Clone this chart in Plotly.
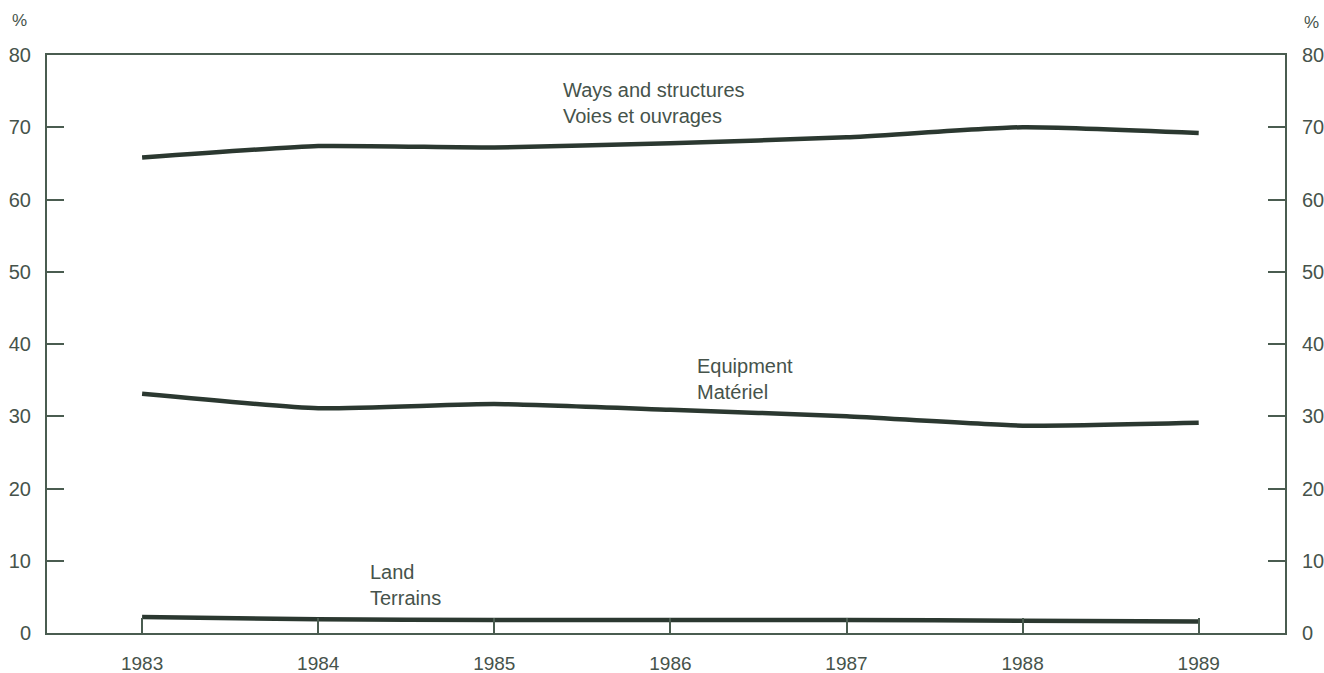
import plotly.graph_objects as go

years = [1983, 1984, 1985, 1986, 1987, 1988, 1989]
ways = [65.8, 67.4, 67.2, 67.8, 68.6, 70.0, 69.2]
equipment = [33.1, 31.1, 31.7, 30.9, 30.0, 28.7, 29.1]
land = [2.2, 1.9, 1.8, 1.8, 1.8, 1.7, 1.6]
y_ticks = [0, 10, 20, 30, 40, 50, 60, 70, 80]

line_col = "#2b3830"
axis_col = "#4a5c50"
text_col = "#46534b"
font_family = "Liberation Sans, Arial, sans-serif"

fig = go.Figure()
for series in (ways, equipment, land):
    fig.add_trace(go.Scatter(
        x=years, y=series, mode="lines",
        line=dict(color=line_col, width=4.5, shape="spline", smoothing=0.5),
        showlegend=False, hoverinfo="skip"))
# invisible trace to activate the right-hand axis
fig.add_trace(go.Scatter(x=years, y=ways, mode="lines", yaxis="y2",
                         line=dict(color="rgba(0,0,0,0)", width=0),
                         showlegend=False, hoverinfo="skip"))

fig.update_layout(
    width=1324, height=673,
    margin=dict(l=47, r=39, t=55, b=40, autoexpand=False),
    paper_bgcolor="white", plot_bgcolor="white",
    font=dict(family=font_family, color=text_col, size=20),
    xaxis=dict(
        range=[1982.46, 1989.49], tickmode="array", tickvals=years,
        ticktext=[str(y) for y in years], automargin=False,
        showline=True, linecolor=axis_col, linewidth=2, mirror=True,
        ticks="inside", ticklen=15, tickwidth=1.5, tickcolor=axis_col,
        showgrid=False, zeroline=False, ticklabelstandoff=12,
        tickfont=dict(size=19, color=text_col),
    ),
    yaxis=dict(
        range=[0, 80], tickmode="array", tickvals=y_ticks, automargin=False,
        showline=True, linecolor=axis_col, linewidth=2,
        ticks="inside", ticklen=17, tickwidth=2, tickcolor=axis_col,
        showgrid=False, zeroline=False, ticklabelstandoff=10,
        tickfont=dict(size=20, color=text_col),
    ),
    yaxis2=dict(
        range=[0, 80], tickmode="array", tickvals=y_ticks, automargin=False,
        overlaying="y", side="right",
        showline=True, linecolor=axis_col, linewidth=2,
        ticks="inside", ticklen=17, tickwidth=2, tickcolor=axis_col,
        showgrid=False, zeroline=False, ticklabelstandoff=11,
        tickfont=dict(size=20, color=text_col),
    ),
)

ann_font = dict(family=font_family, size=20, color=text_col)
labels = [
    (1985.38, 73.3, "Ways and structures<br>Voies et ouvrages"),
    (1986.14, 35.1, "Equipment<br>Matériel"),
    (1984.28, 6.7, "Land<br>Terrains"),
]
for x, y, t in labels:
    fig.add_annotation(x=x, y=y, xref="x", yref="y", text=t, showarrow=False,
                       xanchor="left", yanchor="middle", align="left",
                       font=ann_font)

pct_font = dict(family=font_family, size=17, color=text_col)
fig.add_annotation(text="%", x=0, y=1, xref="paper", yref="paper",
                   xshift=-28, yshift=35, showarrow=False, font=pct_font,
                   xanchor="center", yanchor="middle")
fig.add_annotation(text="%", x=1, y=1, xref="paper", yref="paper",
                   xshift=26, yshift=33, showarrow=False, font=pct_font,
                   xanchor="center", yanchor="middle")

fig.write_html("out.html",
               config={"displayModeBar": False},
               post_script="document.body.style.margin='0';"
                           "document.body.style.overflow='hidden';")
